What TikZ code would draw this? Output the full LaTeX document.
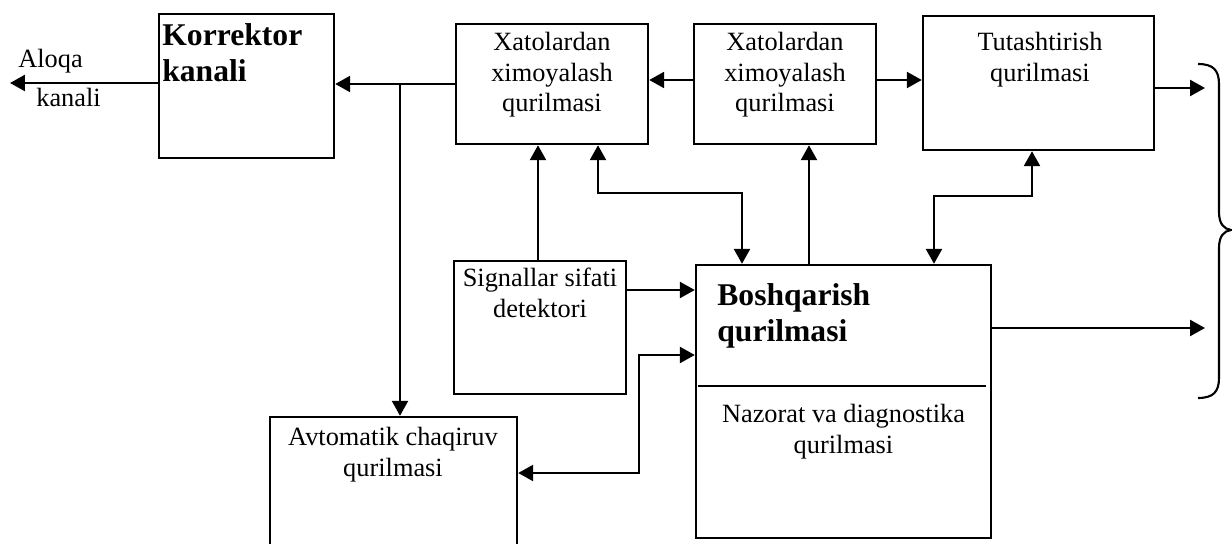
\documentclass[tikz,border=0pt]{standalone}
\usepackage{fontspec}
\setmainfont{Liberation Serif}
\usetikzlibrary{arrows.meta}
\tikzset{
  box/.style={draw, rectangle, line width=1.4pt, inner sep=0pt},
  txt/.style={font=\fontsize{15}{17.3}\selectfont, inner sep=0pt, align=center},
  btxt/.style={font=\fontsize{18}{20.8}\selectfont\bfseries, inner sep=0pt, align=left},
  tip/.tip={Triangle[length=0.3cm,width=0.32cm]},
  arr/.style={line width=1.4pt, -tip},
  arrs/.style={line width=1.4pt, tip-tip},
}
\begin{document}
\begin{tikzpicture}[x=0.02cm, y=-0.02cm]
\useasboundingbox (0,0) rectangle (1232,544);
\clip (0,0) rectangle (1232,544);

% blocks
\node[box, minimum width=3.5cm,  minimum height=2.88cm] (kor)  at (246.5,86)  {};
\node[box, minimum width=3.84cm, minimum height=2.4cm]  (xat1) at (552,84)    {};
\node[box, minimum width=3.64cm, minimum height=2.4cm]  (xat2) at (785,84)    {};
\node[box, minimum width=4.62cm, minimum height=2.68cm] (tut)  at (1038.5,83) {};
\node[box, minimum width=3.44cm, minimum height=2.66cm] (sig)  at (540,327.5) {};
\node[box, minimum width=5.9cm,  minimum height=5.46cm] (bosh) at (843.5,401.5) {};
\node[box, minimum width=4.94cm, minimum height=2.86cm] (avt)  at (393.5,488.5) {};

% divider inside the control block
\draw[line width=1.4pt] (698,386) -- (986,386);

% block labels
\node[btxt, anchor=north west] (korT)  at (162,23)  {Korrektor\\kanali};
\node[txt,  anchor=north]      (xat1T) at (552,32)  {Xatolardan\\ximoyalash\\qurilmasi};
\node[txt,  anchor=north]      (xat2T) at (785,32)  {Xatolardan\\ximoyalash\\qurilmasi};
\node[txt,  anchor=north]      (tutT)  at (1040,32) {Tutashtirish\\qurilmasi};
\node[txt,  anchor=north]      (sigT)  at (540,268) {Signallar sifati\\detektori};
\node[btxt, anchor=north west] (boshT) at (717,283) {Boshqarish\\qurilmasi};
\node[txt,  anchor=north]      (nazT)  at (843.5,404) {Nazorat va diagnostika\\qurilmasi};
\node[txt,  anchor=north]      (avtT)  at (393,427) {Avtomatik chaqiruv\\qurilmasi};
\node[txt,  anchor=north west] (aloqa) at (18,49)  {Aloqa};
\node[txt,  anchor=north west] (kanal) at (36,88)  {kanali};

% free ends and branch points
\coordinate (out0) at (10,83);
\coordinate (out1) at (1205,88);
\coordinate (out2) at (1205,328);
\coordinate (j1)   at (400,84);

% connectors
\draw[arr] (kor.west |- out0) -- (out0);
\draw[arr] (xat1.west) -- (kor.east |- xat1.west);
\draw[arr] (j1) -- (j1 |- avt.north);
\draw[arr] (xat2.west |- 0,80) -- (xat1.east |- 0,80);
\draw[arr] (xat2.east |- 0,80) -- (tut.west |- 0,80);
\draw[arr] (tut.east |- out1) -- (out1);
\draw[arr] (bosh.east |- out2) -- (out2);
\draw[arr] (sig.north -| 538,0) -- (xat1.south -| 538,0);
\draw[arr] (sig.east |- 0,290) -- (bosh.west |- 0,290);
\draw[arrs] (xat1.south -| 598,0) -- (598,193) -| (bosh.north -| 742,0);
\draw[arr] (bosh.north -| 809,0) -- (xat2.south -| 809,0);
\draw[arrs] (tut.south -| 1032,0) -- (1032,196) -| (bosh.north -| 934,0);
\draw[arrs] (bosh.west |- 0,355) -- (639,355) |- (avt.east |- 0,473);

% brace grouping the outputs
\draw[line width=1.2pt] (1198,64) .. controls (1213,64) and (1219,70) .. (1219,84)
  -- (1219,212) .. controls (1219,224) and (1224,229) .. (1231,230)
  .. controls (1224,231) and (1219,236) .. (1219,248)
  -- (1219,378) .. controls (1219,392) and (1213,398) .. (1198,398);
\end{tikzpicture}
\end{document}
